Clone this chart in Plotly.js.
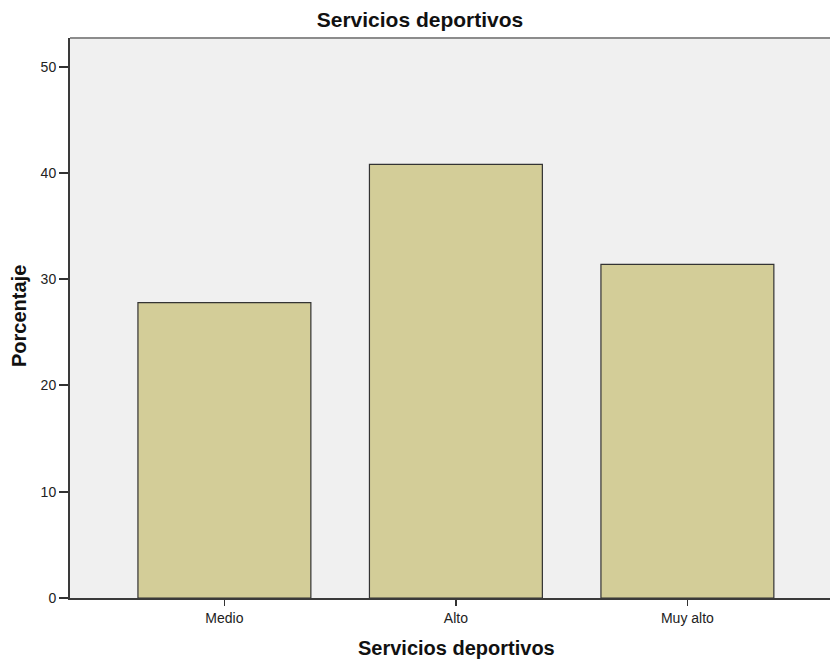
<!DOCTYPE html>
<html>
<head>
<meta charset="utf-8">
<script src="https://cdn.plot.ly/plotly-3.0.1.min.js"></script>
<style>html,body{margin:0;padding:0;background:#fff;}#chart{width:830px;height:661px;}</style>
</head>
<body>
<div id="chart"></div>
<script>
const categories = ["Medio", "Alto", "Muy alto"];
const percentages = [27.8, 40.8, 31.4];
const yTickValues = [0, 10, 20, 30, 40, 50];
const chartTitle = "Servicios deportivos";
const xTitle = "Servicios deportivos";
const yTitle = "Porcentaje";

const FONT = "Liberation Sans, Arial, sans-serif";

const trace = {
  type: "bar",
  x: [0, 1, 2],
  y: percentages,
  width: 0.747,
  marker: { color: "#d3cd98", line: { color: "#333333", width: 1.2 } },
  hoverinfo: "x+y"
};

const layout = {
  width: 830,
  height: 661,
  margin: { l: 70, r: 0, t: 38, b: 63 },
  paper_bgcolor: "#ffffff",
  plot_bgcolor: "#f0f0f0",
  font: { family: FONT, color: "#222222" },
  showlegend: false,
  title: {
    text: chartTitle,
    font: { family: FONT, size: 21, color: "#111111", weight: "bold" },
    x: 420 / 830, xref: "container", xanchor: "center",
    y: 1 - 20 / 661, yref: "container", yanchor: "middle"
  },
  xaxis: {
    range: [-0.667, 2.616],
    tickmode: "array",
    tickvals: [0, 1, 2],
    ticktext: categories,
    ticks: "outside",
    ticklen: 6,
    tickwidth: 1.5,
    tickcolor: "#333333",
    showline: true,
    linecolor: "#3a3a3a",
    linewidth: 2,
    showgrid: false,
    zeroline: false,
    tickfont: { family: FONT, size: 14, color: "#222222" },
    fixedrange: true
  },
  yaxis: {
    range: [0, 52.7],
    tickmode: "array",
    tickvals: yTickValues,
    ticks: "outside",
    ticklen: 9,
    tickwidth: 2,
    tickcolor: "#333333",
    showline: true,
    linecolor: "#3a3a3a",
    linewidth: 2,
    showgrid: false,
    zeroline: false,
    tickfont: { family: FONT, size: 14, color: "#222222" },
    fixedrange: true
  },
  shapes: [
    { type: "line", xref: "paper", yref: "paper", x0: 0, x1: 1, y0: 1, y1: 1,
      line: { color: "#8c8c8c", width: 2 } }
  ],
  annotations: [
    { text: xTitle, xref: "paper", yref: "paper", x: (456 - 70) / 760, y: (598 - 648) / 560,
      xanchor: "center", yanchor: "middle", showarrow: false,
      font: { family: FONT, size: 20, color: "#111111", weight: "bold" } },
    { text: yTitle, xref: "paper", yref: "paper", x: (19 - 70) / 760, y: (598 - 316) / 560,
      xanchor: "center", yanchor: "middle", showarrow: false, textangle: -90,
      font: { family: FONT, size: 20, color: "#111111", weight: "bold" } }
  ]
};

Plotly.newPlot("chart", [trace], layout, { displayModeBar: false, staticPlot: true });
</script>
</body>
</html>
